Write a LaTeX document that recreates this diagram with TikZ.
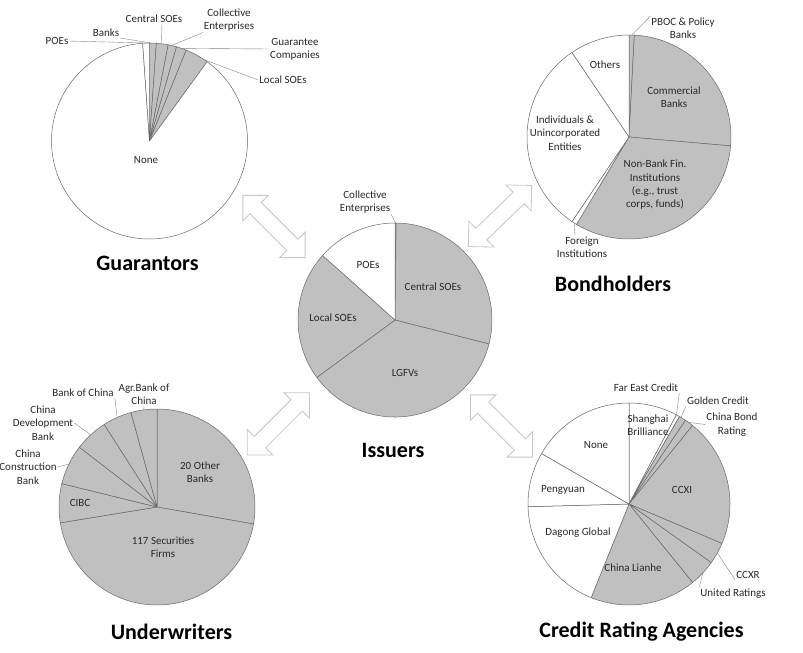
\documentclass[tikz,border=0pt]{standalone}
\usepackage{fontspec}
\setmainfont{Carlito}
\usepackage{xcolor}
\usepackage{tikz}
\definecolor{slicegray}{RGB}{192,192,192}
\definecolor{rimgray}{RGB}{105,105,105}
\definecolor{txtgray}{RGB}{40,40,40}
\definecolor{arrowgray}{RGB}{200,200,200}
\tikzstyle{wedge}=[draw=rimgray, line width=0.5pt, line join=round]
\tikzstyle{lbl}=[font=\fontsize{11}{13.3}\selectfont, text=txtgray, align=center, inner sep=1pt]
\tikzstyle{ttl}=[font=\fontsize{22}{26}\selectfont\bfseries, text=black]
\tikzstyle{leader}=[draw=rimgray!80, line width=0.4pt]
\tikzstyle{blockarrow}=[draw=arrowgray, fill=white, line width=0.8pt, line join=miter]
\newcommand{\BMslice}[5]{\draw[wedge, fill=#5] (#1) -- ++(#3:#2) arc (#3:#4:#2) -- cycle;}
\newcommand{\BMrim}[3]{([shift={(#2:#3)}]#1)}
\newcommand{\BMarrow}[3]{\coordinate (#1) at (#2);
\draw[blockarrow, shift={(#1)}, rotate=#3] (-44,0) -- (-26,18) -- (-26,8) -- (26,8) -- (26,18) -- (44,0) -- (26,-18) -- (26,-8) -- (-26,-8) -- (-26,-18) -- cycle;}

\begin{document}
\begin{tikzpicture}[x=1pt, y=1pt]
\fill[white] (0,0) rectangle (803,-653);
\useasboundingbox (0,0) rectangle (803,-653);
\coordinate (guar) at (149.5,-141);
\coordinate (bond) at (629,-137);
\coordinate (iss) at (395,-320);
\coordinate (under) at (157,-507);
\coordinate (cra) at (629,-504);

\BMslice{guar}{98}{90}{86}{slicegray}
\BMslice{guar}{98}{86}{79}{slicegray}
\BMslice{guar}{98}{79}{74}{slicegray}
\BMslice{guar}{98}{74}{68}{slicegray}
\BMslice{guar}{98}{68}{54}{slicegray}
\BMslice{guar}{98}{54}{-266}{white}
\BMslice{guar}{98}{94}{90}{white}

\BMslice{bond}{102}{90}{87}{slicegray}
\BMslice{bond}{102}{87}{-5}{slicegray}
\BMslice{bond}{102}{-5}{-121}{slicegray}
\BMslice{bond}{102}{-121}{-124}{white}
\BMslice{bond}{102}{-124}{-236}{white}
\BMslice{bond}{102}{-236}{-270}{white}

\BMslice{iss}{97}{90}{89.3}{slicegray}
\BMslice{iss}{97}{89.3}{-14.3}{slicegray}
\BMslice{iss}{97}{-14.3}{-143.7}{slicegray}
\BMslice{iss}{97}{-143.7}{-221.7}{slicegray}
\BMslice{iss}{97}{-221.7}{-270}{white}

\BMslice{under}{98}{90}{-10}{slicegray}
\BMslice{under}{98}{-10}{-170.7}{slicegray}
\BMslice{under}{98}{-170.7}{-193.8}{slicegray}
\BMslice{under}{98}{-193.8}{-217.6}{slicegray}
\BMslice{under}{98}{-217.6}{-237.4}{slicegray}
\BMslice{under}{98}{-237.4}{-254.6}{slicegray}
\BMslice{under}{98}{-254.6}{-270}{slicegray}

\BMslice{cra}{101}{90}{62}{white}
\BMslice{cra}{101}{62}{60}{white}
\BMslice{cra}{101}{60}{56}{slicegray}
\BMslice{cra}{101}{56}{51}{slicegray}
\BMslice{cra}{101}{51}{-23}{slicegray}
\BMslice{cra}{101}{-23}{-35.5}{slicegray}
\BMslice{cra}{101}{-35.5}{-51}{slicegray}
\BMslice{cra}{101}{-51}{-112}{slicegray}
\BMslice{cra}{101}{-112}{-178.5}{white}
\BMslice{cra}{101}{-178.5}{-210}{white}
\BMslice{cra}{101}{-210}{-270}{white}

\BMarrow{guariss}{274,-226.5}{-45}
\BMarrow{issbond}{500,-216}{44}
\BMarrow{issunder}{278.3,-423.8}{45}
\BMarrow{isscra}{501.5,-426}{-45}

\node[lbl] (poeG) at (57,-41) {POEs};
\node[lbl] (bankG) at (106,-33) {Banks};
\node[lbl] (centG) at (154,-19) {Central SOEs};
\node[lbl] (collG) at (229,-20) {Collective\\Enterprises};
\node[lbl] (guarG) at (295,-49) {Guarantee\\Companies};
\node[lbl] (locG) at (283,-80) {Local SOEs};
\node[lbl] (noneG) at (146,-160) {None};
\draw[leader] (poeG.east) -- \BMrim{guar}{92}{98};
\draw[leader] (bankG.south east) -- \BMrim{guar}{89}{98};
\draw[leader] ([xshift=8]centG.south) -- \BMrim{guar}{83}{98};
\draw[leader] (collG.south west) -- \BMrim{guar}{77}{98};
\draw[leader] (guarG.west) -- \BMrim{guar}{71}{98};
\draw[leader] (locG.west) -- \BMrim{guar}{56}{98};
\node[ttl] (guarT) at (147.5,-263) {Guarantors};

\node[lbl] (pbocB) at (683,-28) {PBOC \& Policy\\Banks};
\node[lbl] (othB) at (605,-65) {Others};
\node[lbl] (comB) at (674,-97) {Commercial\\Banks};
\node[lbl] (indB) at (565,-133) {Individuals \&\\Unincorporated\\Entities};
\node[lbl] (nbfB) at (655,-185) {Non-Bank Fin.\\Institutions\\(e.g., trust\\corps, funds)};
\node[lbl] (forB) at (582,-247) {Foreign\\Institutions};
\draw[leader] (pbocB.north west) -- \BMrim{bond}{88.5}{102};
\draw[leader] ([xshift=-7]forB.north) -- \BMrim{bond}{-122.5}{102};
\node[ttl] (bondT) at (613,-284) {Bondholders};

\node[lbl] (collI) at (365,-202) {Collective\\Enterprises};
\node[lbl] (poeI) at (368,-265) {POEs};
\node[lbl] (centI) at (433,-287) {Central SOEs};
\node[lbl] (locI) at (333,-318) {Local SOEs};
\node[lbl] (lgfvI) at (405,-373) {LGFVs};
\draw[leader] (collI.south east) -- \BMrim{iss}{89.6}{97};
\node[ttl] (issT) at (393,-450) {Issuers};

\node[lbl] (abcU) at (144,-394.5) {Agr.Bank of\\China};
\node[lbl] (bocU) at (83,-393) {Bank of China};
\node[lbl] (cdbU) at (43,-423) {China\\Development\\Bank};
\node[lbl] (ccbU) at (28,-467) {China\\Construction\\Bank};
\node[lbl] (cibcU) at (80,-503) {CIBC};
\node[lbl] (othU) at (200,-472) {20 Other\\Banks};
\node[lbl] (secU) at (163,-547) {117 Securities\\Firms};
\draw[leader] (abcU.south) -- \BMrim{under}{97.7}{98};
\draw[leader] (bocU.south east) -- \BMrim{under}{114}{98};
\draw[leader] (cdbU.east) -- \BMrim{under}{132.5}{98};
\draw[leader] (ccbU.east) -- \BMrim{under}{154}{98};
\node[ttl] (underT) at (171.5,-632) {Underwriters};

\node[lbl] (feC) at (646,-388) {Far East Credit};
\node[lbl] (gcC) at (718,-401) {Golden Credit};
\node[lbl] (cbC) at (732,-424.5) {China Bond\\Rating};
\node[lbl] (shC) at (648,-425.5) {Shanghai\\Brilliance};
\node[lbl] (noneC) at (596,-445) {None};
\node[lbl] (pyC) at (563,-490) {Pengyuan};
\node[lbl] (ccxiC) at (682,-490) {CCXI};
\node[lbl] (dgC) at (578,-533) {Dagong Global};
\node[lbl] (lhC) at (633,-568) {China Lianhe};
\node[lbl] (ccxrC) at (748,-575) {CCXR};
\node[lbl] (urC) at (733,-593.5) {United Ratings};
\draw[leader] (feC.south east) -- \BMrim{cra}{62}{101};
\draw[leader] (gcC.south west) -- \BMrim{cra}{59}{101};
\draw[leader] (cbC.west) -- \BMrim{cra}{54}{101};
\draw[leader] (ccxrC.south west) -- \BMrim{cra}{-29}{101};
\draw[leader] (urC.north west) -- \BMrim{cra}{-43}{101};
\node[ttl] (craT) at (641.5,-632) {Credit Rating Agencies};
\end{tikzpicture}
\end{document}
